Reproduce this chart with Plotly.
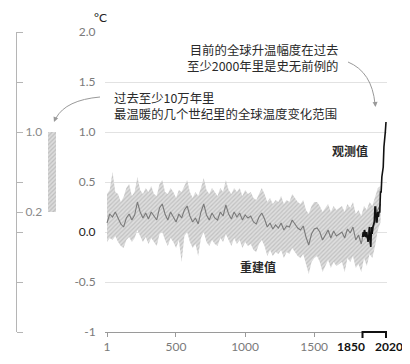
import plotly.graph_objects as go

# page is rendered with an 8px body margin, so the figure is 8px smaller
OFF = 8
W, H = 410 - OFF, 364 - OFF

# ---------------- data ----------------
recon_years = list(range(1, 2001, 20))
recon_median = [
    0.09, 0.18, 0.15, 0.20, 0.14, 0.08, 0.05, 0.14, 0.18, 0.12,
    0.17, 0.30, 0.20, 0.14, 0.19, 0.13, 0.20, 0.16, 0.12, 0.24,
    0.28, 0.18, 0.12, 0.20, 0.15, 0.10, 0.18, 0.14, 0.22, 0.26,
    0.16, 0.10, 0.14, 0.08, 0.20, 0.28, 0.17, 0.12, 0.19, 0.14,
    0.12, 0.20, 0.16, 0.27, 0.18, 0.13, 0.20, 0.15, 0.19, 0.12,
    0.17, 0.14, 0.16, 0.10, 0.08, 0.15, 0.19, 0.13, 0.05, 0.09,
    0.03, 0.07, 0.04, 0.09, 0.02, 0.06, 0.05, 0.12, 0.08, 0.04,
    0.02, 0.06, -0.05, -0.13, -0.02, 0.03, 0.04, 0.00, -0.08, -0.03,
    0.02, -0.06, 0.01, -0.04, -0.02, 0.00, -0.06, 0.03, -0.01, 0.05,
    -0.08, -0.03, -0.12, 0.02, -0.06, 0.05, 0.00, 0.10, 0.22, 0.28,
]
recon_upper = [
    0.38, 0.42, 0.60, 0.40, 0.38, 0.30, 0.35, 0.44, 0.48, 0.36,
    0.40, 0.55, 0.42, 0.38, 0.44, 0.40, 0.46, 0.38, 0.36, 0.48,
    0.52, 0.40, 0.38, 0.44, 0.40, 0.34, 0.42, 0.40, 0.46, 0.52,
    0.40, 0.34, 0.40, 0.36, 0.44, 0.54, 0.42, 0.38, 0.44, 0.40,
    0.36, 0.44, 0.40, 0.52, 0.42, 0.38, 0.44, 0.40, 0.44, 0.36,
    0.42, 0.38, 0.40, 0.34, 0.32, 0.38, 0.44, 0.38, 0.30, 0.34,
    0.28, 0.32, 0.30, 0.36, 0.28, 0.32, 0.30, 0.38, 0.34, 0.30,
    0.28, 0.32, 0.22, 0.18, 0.26, 0.30, 0.30, 0.26, 0.20, 0.24,
    0.28, 0.20, 0.26, 0.22, 0.24, 0.26, 0.20, 0.28, 0.24, 0.30,
    0.18, 0.22, 0.16, 0.26, 0.22, 0.30, 0.26, 0.34, 0.44, 0.46,
]
recon_lower = [
    -0.10, -0.06, -0.08, -0.04, -0.10, -0.14, -0.16, -0.08, -0.05, -0.10,
    -0.06, 0.02, -0.04, -0.10, -0.05, -0.12, -0.06, -0.10, -0.14, -0.02,
    0.00, -0.08, -0.14, -0.06, -0.10, -0.16, -0.08, -0.30, -0.04, 0.00,
    -0.10, -0.16, -0.12, -0.24, -0.06, 0.00, -0.10, -0.14, -0.08, -0.12,
    -0.14, -0.06, -0.10, -0.02, -0.08, -0.14, -0.06, -0.12, -0.08, -0.16,
    -0.10, -0.14, -0.12, -0.18, -0.20, -0.12, -0.08, -0.14, -0.24, -0.18,
    -0.24, -0.20, -0.22, -0.18, -0.26, -0.20, -0.22, -0.16, -0.20, -0.24,
    -0.26, -0.22, -0.32, -0.42, -0.30, -0.26, -0.24, -0.30, -0.40, -0.34,
    -0.28, -0.36, -0.30, -0.34, -0.32, -0.30, -0.40, -0.26, -0.30, -0.24,
    -0.36, -0.32, -0.40, -0.26, -0.34, -0.22, -0.26, -0.14, 0.02, 0.10,
]

obs_years = [1850, 1855, 1860, 1865, 1870, 1875, 1880, 1885, 1890, 1895,
             1900, 1905, 1910, 1915, 1920, 1925, 1930, 1935, 1940, 1945,
             1950, 1955, 1960, 1965, 1970, 1975, 1980, 1985, 1990, 1995,
             2000, 2005, 2010, 2015, 2020]
obs_values = [-0.05, 0.00, -0.05, 0.02, -0.02, -0.05, 0.00, -0.08, -0.10, -0.05,
              0.05, -0.10, -0.15, 0.05, -0.02, 0.05, 0.10, 0.10, 0.25, 0.25,
              0.10, 0.10, 0.20, 0.15, 0.20, 0.20, 0.40, 0.40, 0.55, 0.60,
              0.65, 0.85, 0.90, 1.00, 1.10]

warm_range_low = 0.2
warm_range_high = 1.0

y_tickvals = [2.0, 1.5, 1.0, 0.5, 0.0, -0.5, -1]
y_ticktext = ["2.0", "1.5", "1.0", "0.5", "<span style='color:#222'>0.0</span>", "-0.5", "-1"]
x_tickvals = [1, 500, 1000, 1500, 1850, 2020]
x_ticktext = ["1", "500", "1000", "1500", "", ""]
x_bold_labels = [1850, 2020]

# ---------------- helpers (page pixel -> paper) ----------------
def px(x):
    return (x - OFF) / W

def py(y):
    return 1 - (y - OFF) / H

FONT = "Lato, 'Noto Sans CJK SC', sans-serif"

fig = go.Figure()

# uncertainty band
fig.add_trace(go.Scatter(x=recon_years, y=recon_lower, mode="lines",
                         line=dict(width=0), hoverinfo="skip", showlegend=False))
fig.add_trace(go.Scatter(x=recon_years, y=recon_upper, mode="lines",
                         line=dict(width=0), fill="tonexty",
                         fillcolor="rgba(215,215,215,1)",
                         fillpattern=dict(shape="/", fgcolor="#a4a4a4", bgcolor="#dedede",
                                          size=3, solidity=0.4),
                         hoverinfo="skip", showlegend=False))
# reconstruction median
fig.add_trace(go.Scatter(x=recon_years, y=recon_median, mode="lines",
                         line=dict(color="#7a7a7a", width=1.1), showlegend=False))
# observations
fig.add_trace(go.Scatter(x=obs_years, y=obs_values, mode="lines",
                         line=dict(color="#111111", width=1.6), showlegend=False))

# left panel bar
fig.add_trace(go.Bar(x=[52], y=[warm_range_high - warm_range_low], base=[warm_range_low],
                     width=8, xaxis="x2", yaxis="y2",
                     marker=dict(color="#d8d8d8", line=dict(width=0),
                                 pattern=dict(shape="/", fgcolor="#a0a0a0", bgcolor="#dcdcdc",
                                              size=3, solidity=0.4)),
                     showlegend=False))

ydom = [py(332), py(32)]
xr0 = 1 - 2 / 0.1382
xr1 = 2020 + 1 / 0.1382

fig.update_layout(
    width=W, height=H,
    margin=dict(l=0, r=0, t=0, b=0),
    paper_bgcolor="white", plot_bgcolor="white",
    font=dict(family=FONT, size=12, color="#333"),
    xaxis=dict(domain=[px(105), px(387)], range=[xr0, xr1],
               tickvals=x_tickvals, ticktext=x_ticktext, tickangle=0, automargin=False,
               showgrid=False, zeroline=False,
               showline=True, linecolor="#9a9a9a", linewidth=1,
               ticks="outside", ticklen=4, tickcolor="#9a9a9a",
               tickfont=dict(size=12, color="#7a7a7a", family=FONT)),
    yaxis=dict(domain=ydom, range=[-1, 2], automargin=False,
               tickvals=y_tickvals, ticktext=y_ticktext,
               showgrid=True, gridcolor="#e2e2e2", gridwidth=1,
               zeroline=False, showline=False,
               ticks="outside", ticklen=6, tickcolor="rgba(0,0,0,0)",
               tickfont=dict(size=12, color="#7a7a7a", family=FONT)),
    xaxis2=dict(domain=[0, px(70)], range=[OFF, 70], visible=False, anchor="y2"),
    yaxis2=dict(domain=ydom, range=[-1, 2], anchor="free", position=px(16),
                side="right", automargin=False,
                tickvals=[1.0, 0.2], ticktext=["1.0", "0.2"],
                showgrid=False, zeroline=False,
                showline=True, linecolor="#b5b5b5", linewidth=1,
                ticks="outside", ticklen=6, tickcolor="#b5b5b5",
                minor=dict(dtick=0.5, tick0=0, ticks="outside", ticklen=6, tickcolor="#b5b5b5"),
                tickfont=dict(size=12, color="#8a8a8a", family=FONT)),
    bargap=0,
)

# bold tick labels for the observation period
for yr, shift in zip(x_bold_labels, [-12, 3]):
    fig.add_annotation(x=yr, y=py(346), xref="x", yref="paper", xshift=shift,
                       xanchor="center", yanchor="middle", showarrow=False,
                       text=f"<b>{yr}</b>", font=dict(family=FONT, size=12, color="#111"))

# bracket under 1850-2020
fig.add_shape(type="path", xref="x", yref="paper",
              path=f"M {x_bold_labels[0]},{py(338)} L {x_bold_labels[0]},{py(332)} "
                   f"L {x_bold_labels[1]},{py(332)} L {x_bold_labels[1]},{py(338)}",
              line=dict(color="#111", width=2))

# curved arrows
def curve(p0, c, p1):
    return f"M {px(p0[0])},{py(p0[1])} Q {px(c[0])},{py(c[1])} {px(p1[0])},{py(p1[1])}"

fig.add_shape(type="path", xref="paper", yref="paper",
              path=curve((348, 62), (372, 72), (375, 104)),
              line=dict(color="#999", width=1))
fig.add_annotation(x=px(375.5), y=py(107), xref="paper", yref="paper",
                   ax=-0.5, ay=-6, axref="pixel", ayref="pixel",
                   showarrow=True, arrowhead=2, arrowsize=1, arrowwidth=1,
                   arrowcolor="#999", text="")
fig.add_shape(type="path", xref="paper", yref="paper",
              path=curve((100, 97), (66, 100), (56, 118)),
              line=dict(color="#999", width=1))
fig.add_annotation(x=px(54), y=py(122), xref="paper", yref="paper",
                   ax=2, ay=-5, axref="pixel", ayref="pixel",
                   showarrow=True, arrowhead=2, arrowsize=1, arrowwidth=1,
                   arrowcolor="#999", text="")

TXT = dict(family="'Noto Sans CJK SC', Lato, sans-serif", size=12.4, color="#2a2a2a")

fig.add_annotation(x=px(340), y=py(58), xref="paper", yref="paper",
                   xanchor="right", yanchor="middle", align="right", showarrow=False,
                   text="目前的全球升温幅度在过去<br>至少2000年里是史无前例的", font=TXT)
fig.add_annotation(x=px(112), y=py(106), xref="paper", yref="paper",
                   xanchor="left", yanchor="middle", align="left", showarrow=False,
                   text="过去至少10万年里<br>最温暖的几个世纪里的全球温度变化范围", font=TXT)
fig.add_annotation(x=px(350), y=py(150), xref="paper", yref="paper",
                   xanchor="center", yanchor="middle", showarrow=False,
                   text="<b>观测值</b>", font=dict(family=TXT["family"], size=12, color="#2a2a2a"))
fig.add_annotation(x=px(258), y=py(266), xref="paper", yref="paper",
                   xanchor="center", yanchor="middle", showarrow=False,
                   text="<b>重建值</b>", font=dict(family=TXT["family"], size=12, color="#2a2a2a"))
fig.add_annotation(x=px(100), y=py(17), xref="paper", yref="paper",
                   xanchor="center", yanchor="middle", showarrow=False,
                   text="°C", font=dict(family=FONT, size=12, color="#222"))

fig.write_html("out.html")
